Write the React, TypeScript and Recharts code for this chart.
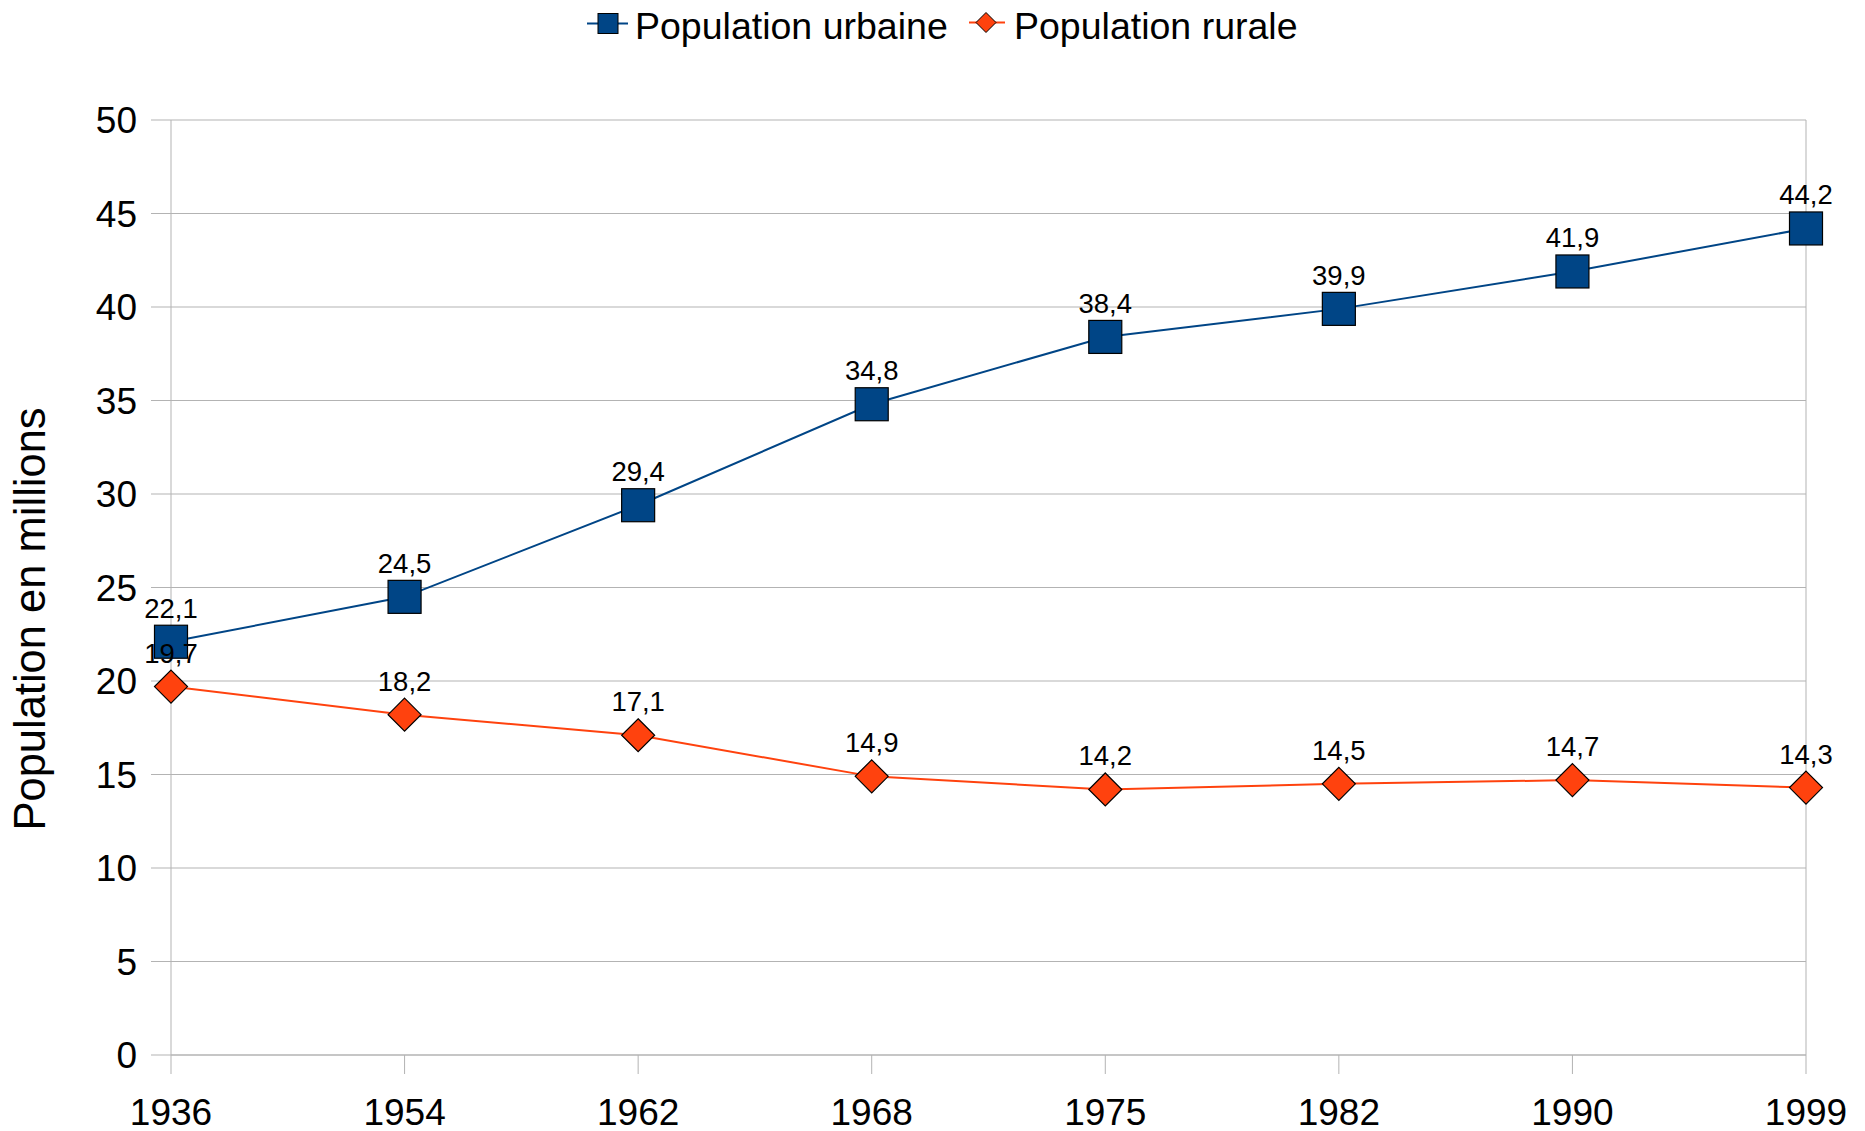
import React from 'react';
import { LineChart, Line, XAxis, YAxis, CartesianGrid, LabelList, ReferenceLine } from 'recharts';

const years = ['1936', '1954', '1962', '1968', '1975', '1982', '1990', '1999'];
const urbaine = [22.1, 24.5, 29.4, 34.8, 38.4, 39.9, 41.9, 44.2];
const rurale = [19.7, 18.2, 17.1, 14.9, 14.2, 14.5, 14.7, 14.3];
const yTicks = [0, 5, 10, 15, 20, 25, 30, 35, 40, 45, 50];
const seriesNames = ['Population urbaine', 'Population rurale'];
const yTitle = 'Population en millions';

const BLUE = '#004586';
const ORANGE = '#ff420e';
const GRAY = '#b3b3b3';
const FONT = '"Liberation Sans", Arial, sans-serif';

const data = years.map((y, i) => ({ year: y, urbaine: urbaine[i], rurale: rurale[i] }));

const fmt = (v: any) => String(v).replace('.', ',');

const SquareDot = (props: any) => {
  const { cx, cy, index } = props;
  if (cx == null || cy == null) return null;
  const s = 33;
  return <rect key={`sq-${index}`} x={cx - s / 2} y={cy - s / 2} width={s} height={s} fill={BLUE} stroke="#000" strokeWidth={1.2} />;
};

const DiamondDot = (props: any) => {
  const { cx, cy, index } = props;
  if (cx == null || cy == null) return null;
  const h = 16.5;
  return (
    <polygon
      key={`dm-${index}`}
      points={`${cx},${cy - h} ${cx + h},${cy} ${cx},${cy + h} ${cx - h},${cy}`}
      fill={ORANGE}
      stroke="#000"
      strokeWidth={1.2}
    />
  );
};

const YTitle = () => (
  <text
    x={45}
    y={619}
    transform="rotate(-90 45 619)"
    textAnchor="middle"
    fontSize={43.5}
    fontFamily={FONT}
    fill="#000"
  >
    {yTitle}
  </text>
);

const LegendBar = () => (
  <svg width={1865} height={60} style={{ position: 'absolute', left: 0, top: 0 }}>
    <line x1={587} y1={23.5} x2={628} y2={23.5} stroke={BLUE} strokeWidth={2} />
    <rect x={598} y={13.5} width={20} height={20} fill={BLUE} stroke="#000" strokeWidth={1} />
    <text x={635} y={39} fontSize={37.5} fontFamily={FONT} fill="#000">{seriesNames[0]}</text>
    <line x1={969} y1={22.5} x2={1005} y2={22.5} stroke={ORANGE} strokeWidth={2} />
    <polygon points="986,12.5 996,22.5 986,32.5 976,22.5" fill={ORANGE} stroke="#000" strokeWidth={1} />
    <text x={1014} y={39} fontSize={37.5} fontFamily={FONT} fill="#000">{seriesNames[1]}</text>
  </svg>
);

export default function App() {
  return (
    <div style={{ position: 'absolute', left: 0, top: 0, width: 1865, height: 1131, background: '#fff', fontFamily: FONT }}>
      <LineChart width={1865} height={1131} data={data} margin={{ top: 120, right: 59, bottom: 0, left: 0 }}>
        <CartesianGrid vertical={false} stroke={GRAY} strokeWidth={1} />
        <XAxis
          dataKey="year"
          height={76}
          axisLine={{ stroke: GRAY }}
          tickLine={{ stroke: GRAY }}
          tickSize={19}
          tickMargin={25}
          interval={0}
          tick={{ fontSize: 37, fill: '#000', fontFamily: FONT }}
        />
        <YAxis
          width={171}
          domain={[0, 50]}
          ticks={yTicks}
          interval={0}
          axisLine={{ stroke: GRAY }}
          tickLine={{ stroke: GRAY }}
          tickSize={20}
          tickMargin={14}
          tick={{ fontSize: 37, fill: '#000', fontFamily: FONT }}
          label={YTitle}
        />
        <ReferenceLine x="1999" stroke={GRAY} strokeWidth={1} />
        <Line
          type="linear"
          dataKey="urbaine"
          name={seriesNames[0]}
          stroke={BLUE}
          strokeWidth={2}
          dot={SquareDot}
          activeDot={false}
          isAnimationActive={false}
        >
          <LabelList dataKey="urbaine" position="top" offset={24} formatter={fmt} fontSize={27.5} fill="#000" fontFamily={FONT} />
        </Line>
        <Line
          type="linear"
          dataKey="rurale"
          name={seriesNames[1]}
          stroke={ORANGE}
          strokeWidth={2}
          dot={DiamondDot}
          activeDot={false}
          isAnimationActive={false}
        >
          <LabelList dataKey="rurale" position="top" offset={24} formatter={fmt} fontSize={27.5} fill="#000" fontFamily={FONT} />
        </Line>
      </LineChart>
      <LegendBar />
    </div>
  );
}
